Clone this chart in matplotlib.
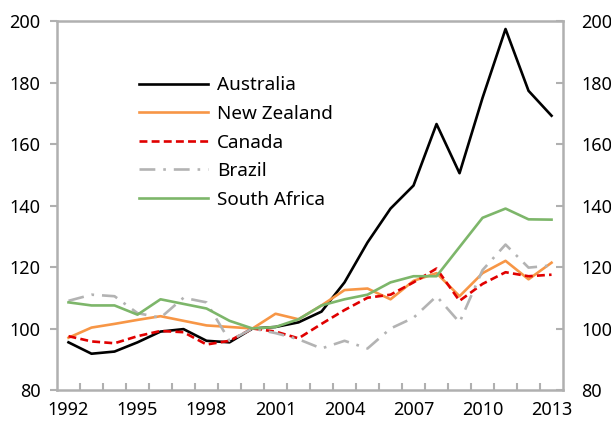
import matplotlib
matplotlib.use("Agg")
import matplotlib.pyplot as plt
import numpy as np

plt.rcParams['font.family'] = ['Noto Sans', 'DejaVu Sans']

years = list(range(1992, 2014))
australia = [95.5, 91.8, 92.5, 95.5, 99.0, 99.8, 96.0, 95.5, 100.0, 100.5, 102.0, 105.5,
             115.0, 128.0, 139.0, 146.5, 166.5, 150.5, 175.0, 197.4, 177.3, 169.2]
new_zealand = [97.0, 100.3, 101.5, 102.8, 104.0, 102.5, 101.0, 100.5, 100.0, 104.8, 103.0, 107.5,
               112.5, 113.0, 109.5, 115.5, 118.0, 110.5, 118.0, 122.0, 116.0, 121.4]
canada = [97.5, 95.8, 95.2, 97.5, 99.2, 98.8, 94.8, 96.0, 100.0, 99.0, 96.8, 101.5,
          106.0, 110.0, 111.0, 115.0, 119.5, 109.0, 114.5, 118.3, 117.0, 117.5]
brazil = [109.0, 111.0, 110.5, 105.0, 103.5, 110.0, 108.5, 96.0, 100.0, 98.5, 96.5, 93.5,
          96.0, 93.5, 100.0, 103.5, 110.5, 102.0, 119.0, 127.3, 119.8, 120.5]
south_africa = [108.5, 107.5, 107.5, 104.5, 109.5, 108.0, 106.5, 102.5, 100.0, 100.5, 103.0, 107.5,
                109.5, 111.0, 115.0, 117.0, 117.0, 126.5, 136.0, 139.0, 135.5, 135.4]

x = np.arange(len(years))

fig = plt.figure(figsize=(6.11, 4.26), dpi=100)
ax = fig.add_axes([0.0933, 0.0845, 0.8282, 0.8662])

ax.plot(x, australia, color="black", lw=1.9, label="Australia")
ax.plot(x, new_zealand, color="#F79646", lw=1.9, label="New Zealand")
ax.plot(x, canada, color="#E00000", lw=1.9, ls=(0, (3, 1.6)), label="Canada")
ax.plot(x, brazil, color="#B3B3B3", lw=1.9, ls=(0, (6, 3, 1, 3)), label="Brazil")
ax.plot(x, south_africa, color="#7DB66A", lw=1.9, label="South Africa")

ax.set_xlim(-0.5, len(years) - 0.5)
ax.set_ylim(80, 200)
ax.set_yticks(np.arange(80, 201, 20))
ax.set_xticks(x[::3])
ax.set_xticklabels([str(y) for y in years[::3]])
ax.set_xticks(np.arange(0.5, len(years) - 1, 1), minor=True)

spine_col = "#B0B0B0"
for s in ax.spines.values():
    s.set_color(spine_col)
    s.set_linewidth(1.8)

ax.tick_params(axis="x", which="major", length=0, labelsize=13, pad=8)
ax.tick_params(axis="x", which="minor", direction="in", length=5, width=1.5, color=spine_col)
ax.tick_params(axis="y", direction="out", length=5, width=1.5, color=spine_col,
               labelsize=13, pad=7)

# right-hand axis, same scale, ticks pointing inward
ax2 = ax.twinx()
ax2.set_ylim(80, 200)
ax2.set_yticks(np.arange(80, 201, 20))
ax2.tick_params(axis="y", direction="in", length=5, width=1.5, color=spine_col,
                labelsize=13, pad=13)
for s in ax2.spines.values():
    s.set_visible(False)

ax.legend(loc="upper left", bbox_to_anchor=(0.163, 0.85), frameon=False,
          fontsize=13.6, handlelength=3.65, handletextpad=0.45,
          labelspacing=0.56, borderpad=0, borderaxespad=0)

fig.savefig("out.png", dpi=100)
